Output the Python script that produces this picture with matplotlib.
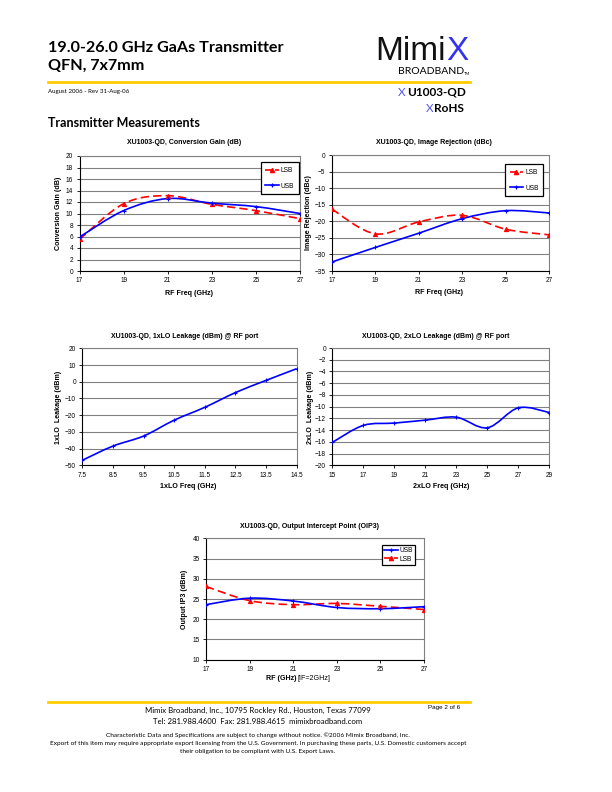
import matplotlib.pyplot as plt
import numpy as np
from matplotlib.path import Path
from matplotlib.patches import PathPatch
from matplotlib.lines import Line2D

plt.rcParams['font.family'] = ['Liberation Sans', 'DejaVu Sans']

W, H = 612, 792

# data
rf_freq = [17, 19, 21, 23, 25, 27]
gain_lsb = [5.5, 11.7, 13.1, 11.6, 10.5, 9.1]
gain_usb = [5.9, 10.5, 12.6, 11.8, 11.2, 10.0]

rej_lsb = [-16.3, -23.8, -20.2, -18.2, -22.4, -24.1]
rej_usb = [-32.3, -27.9, -23.6, -19.2, -16.8, -17.5]

lo1_freq = [7.5, 8.5, 9.5, 10.5, 11.5, 12.5, 13.5, 14.5]
lo1_leak = [-47.0, -38.5, -32.5, -23.0, -15.3, -6.5, 0.8, 7.8]

lo2_freq = [15, 17, 19, 21, 23, 25, 27, 29]
lo2_leak = [-16.1, -13.2, -12.8, -12.3, -11.8, -13.6, -10.2, -11.0]

oip3_usb = [23.6, 25.2, 24.5, 22.9, 22.6, 23.1]
oip3_lsb = [28.1, 24.6, 23.6, 23.9, 23.2, 22.4]

RED = '#FF0000'
BLUE = '#0000FF'


def px_axes(fig, x0, y0, x1, y1):
    return fig.add_axes([x0 / W, 1 - y1 / H, (x1 - x0) / W, (y1 - y0) / H])


def smooth(ax, x, y, color, dashed=False, marker='^'):
    # Excel-like smoothed line: cubic bezier through the data points
    p = np.column_stack([x, y]).astype(float)
    n = len(p)
    verts = [p[0]]
    codes = [Path.MOVETO]
    for i in range(n - 1):
        prev = p[i - 1] if i > 0 else p[i]
        nxt = p[i + 2] if i + 2 < n else p[i + 1]
        c1 = p[i] + (p[i + 1] - prev) / 6
        c2 = p[i + 1] - (nxt - p[i]) / 6
        verts += [c1, c2, p[i + 1]]
        codes += [Path.CURVE4] * 3
    ls = (0, (5, 2.5)) if dashed else '-'
    ax.add_patch(PathPatch(Path(verts, codes), fill=False, edgecolor=color,
                           lw=1.2, linestyle=ls, zorder=3))
    ax.plot(x, y, linestyle='none', marker=marker, color=color, ms=3, mew=0.8, zorder=4)


def style(ax, xlim, ylim, xticks, yticks, xfmt=None):
    ax.set_xlim(xlim)
    ax.set_ylim(ylim)
    ax.set_xticks(xticks)
    ax.set_yticks(yticks)
    if xfmt:
        ax.set_xticklabels([xfmt % v for v in xticks])
    ax.grid(axis='y', color='#808080', lw=0.8)
    ax.set_axisbelow(True)
    for s in ['top', 'right']:
        ax.spines[s].set_color('#808080')
        ax.spines[s].set_linewidth(0.8)
    for s in ['left', 'bottom']:
        ax.spines[s].set_color('#000000')
        ax.spines[s].set_linewidth(0.8)
    ax.tick_params(labelsize=4.7, length=2.5, width=0.6, pad=2)


def legend(fig, handles, labels, x0, y0, spacing, pad):
    fig.legend(handles, labels, loc='upper left', bbox_to_anchor=(x0 / W, 1 - y0 / H),
               fontsize=4.8, frameon=True, fancybox=False, edgecolor='black',
               framealpha=1, labelspacing=spacing, handlelength=2.0, handletextpad=0.3,
               borderpad=pad, numpoints=1, borderaxespad=0).get_frame().set_linewidth(0.9)


def chart_text(fig, title, tx, ty, xlabel, lx, ly, ylabel, yx, yy):
    fig.text(tx / W, 1 - ty / H, title, fontsize=5, fontweight='bold', ha='center', va='center')
    if xlabel:
        fig.text(lx / W, 1 - ly / H, xlabel, fontsize=5.1, fontweight='bold', ha='center', va='center')
    fig.text(yx / W, 1 - yy / H, ylabel, fontsize=5.1, fontweight='bold', ha='center', va='center',
             rotation=90)


lsb_h = Line2D([], [], color=RED, ls=(0, (4, 2)), lw=1.2, marker='^', ms=3)
usb_h = Line2D([], [], color=BLUE, lw=1.2, marker='+', ms=3.5, mew=0.9)

fig = plt.figure(figsize=(W / 100, H / 100), dpi=100)

# chart 1: conversion gain
ax1 = px_axes(fig, 79.5, 156, 300, 271)
style(ax1, (17, 27), (0, 20), rf_freq, range(0, 21, 2))
smooth(ax1, rf_freq, gain_lsb, RED, dashed=True, marker='^')
smooth(ax1, rf_freq, gain_usb, BLUE, marker='+')
chart_text(fig, 'XU1003-QD, Conversion Gain (dB)', 184, 143, 'RF Freq (GHz)', 189, 293,
           'Conversion Gain (dB)', 59, 213)
legend(fig, [lsb_h, usb_h], ['LSB', 'USB'], 260.7, 162.3, 1.3, 0.7)

# chart 2: image rejection
ax2 = px_axes(fig, 331.7, 155, 549.3, 271)
style(ax2, (17, 27), (-35, 0), rf_freq, range(-35, 1, 5))
smooth(ax2, rf_freq, rej_lsb, RED, dashed=True, marker='^')
smooth(ax2, rf_freq, rej_usb, BLUE, marker='+')
chart_text(fig, 'XU1003-QD, Image Rejection (dBc)', 434, 143, 'RF Freq (GHz)', 439, 292,
           'Image Rejection (dBc)', 309, 213)
legend(fig, [lsb_h, usb_h], ['LSB', 'USB'], 505, 164.3, 1.3, 0.7)

# chart 3: 1xLO leakage
ax3 = px_axes(fig, 82.3, 348.3, 296.7, 465.3)
style(ax3, (7.5, 14.5), (-50, 20), lo1_freq, range(-50, 21, 10), xfmt='%.1f')
smooth(ax3, lo1_freq, lo1_leak, BLUE, marker='+')
chart_text(fig, 'XU1003-QD, 1xLO Leakage (dBm) @ RF port', 185, 336, '1xLO Freq (GHz)', 188, 486,
           '1xLO  Leakage (dBm)', 59, 407)

# chart 4: 2xLO leakage
ax4 = px_axes(fig, 332.3, 348, 549.3, 465.3)
style(ax4, (15, 29), (-20, 0), lo2_freq, range(-20, 1, 2))
smooth(ax4, lo2_freq, lo2_leak, BLUE, marker='+')
chart_text(fig, 'XU1003-QD, 2xLO Leakage (dBm) @ RF port', 436, 336, '2xLO Freq (GHz)', 441, 486,
           '2xLO  Leakage (dBm)', 310, 407)

# chart 5: OIP3
ax5 = px_axes(fig, 206, 538.3, 424, 659.7)
style(ax5, (17, 27), (10, 40), rf_freq, range(10, 41, 5))
smooth(ax5, rf_freq, oip3_lsb, RED, dashed=True, marker='^')
smooth(ax5, rf_freq, oip3_usb, BLUE, marker='+')
chart_text(fig, 'XU1003-QD, Output Intercept Point (OIP3)', 310, 526, None, 0, 0,
           'Output IP3 (dBm)', 185, 599)
fig.text(296 / W, 1 - 679 / H, 'RF (GHz)', fontsize=5.1, fontweight='bold', ha='right', va='center')
fig.text(298 / W, 1 - 679 / H, '[IF=2GHz]', fontsize=5.1, ha='left', va='center')
legend(fig, [usb_h, lsb_h], ['USB', 'LSB'], 382.3, 545, 0.25, 0.3)

# page header
hf = ['Lato', 'DejaVu Sans']
fig.text(48 / W, 1 - 48 / H, '19.0-26.0 GHz GaAs Transmitter', family=hf, fontsize=11.6,
         fontweight='bold', va='center')
fig.text(48 / W, 1 - 66 / H, 'QFN, 7x7mm', family=hf, fontsize=11.6, fontweight='bold', va='center')
fig.add_artist(Line2D([48 / W, 470 / W], [1 - 82 / H, 1 - 82 / H], color='#FFCC00', lw=2))
fig.text(48 / W, 1 - 91 / H, 'August 2006 - Rev 31-Aug-06', family=hf, fontsize=4.4, va='center')
fig.text(48 / W, 1 - 123 / H, 'Transmitter Measurements', family=hf, fontsize=9,
         fontweight='bold', va='center')

# logo
lf = ['Liberation Sans Narrow', 'Liberation Sans']
fig.text(446 / W, 1 - 51 / H, 'Mimi', family=lf, fontsize=24, ha='right', va='center',
         color='#111111')
fig.text(446 / W, 1 - 51 / H, 'X', family=lf, fontsize=24, color='#3333EE', ha='left', va='center')
fig.text(398 / W, 1 - 72 / H, 'BROADBAND', family=hf, fontsize=7.5, ha='left', va='center')
fig.text(464 / W, 1 - 74 / H, 'TM', family=hf, fontsize=3, ha='left', va='center')
fig.text(407 / W, 1 - 92 / H, 'U1003-QD', family=hf, fontsize=8.5, fontweight='bold', ha='left',
         va='center')
fig.text(406 / W, 1 - 92 / H, 'X', family=hf, fontsize=8.5, color='#5555EE', ha='right', va='center')
fig.text(434 / W, 1 - 109 / H, 'RoHS', family=hf, fontsize=8.5, fontweight='bold', ha='left',
         va='center')
fig.text(433 / W, 1 - 109 / H, 'X', family=hf, fontsize=8.5, color='#5555EE', ha='right', va='center')

# footer
fig.add_artist(Line2D([48 / W, 470 / W], [1 - 702 / H, 1 - 702 / H], color='#FFCC00', lw=2))
fig.text(258 / W, 1 - 710 / H, 'Mimix Broadband, Inc., 10795 Rockley Rd., Houston, Texas 77099',
         family=hf, fontsize=5.6, ha='center', va='center')
fig.text(258 / W, 1 - 721 / H, 'Tel: 281.988.4600  Fax: 281.988.4615  mimixbroadband.com',
         family=hf, fontsize=5.6, ha='center', va='center')
fig.text(460 / W, 1 - 707 / H, 'Page 2 of 6', fontsize=4.5, ha='right', va='center')
fig.text(258 / W, 1 - 735 / H,
         'Characteristic Data and Specifications are subject to change without notice. \u00a92006 Mimix Broadband, Inc.',
         family=hf, fontsize=4.65, ha='center', va='center')
fig.text(258 / W, 1 - 743 / H,
         'Export of this item may require appropriate export licensing from the U.S. Government. '
         'In purchasing these parts, U.S. Domestic customers accept',
         family=hf, fontsize=4.65, ha='center', va='center')
fig.text(258 / W, 1 - 751 / H, 'their obligation to be compliant with U.S. Export Laws.',
         family=hf, fontsize=4.65, ha='center', va='center')

fig.savefig('out.png', dpi=100)
